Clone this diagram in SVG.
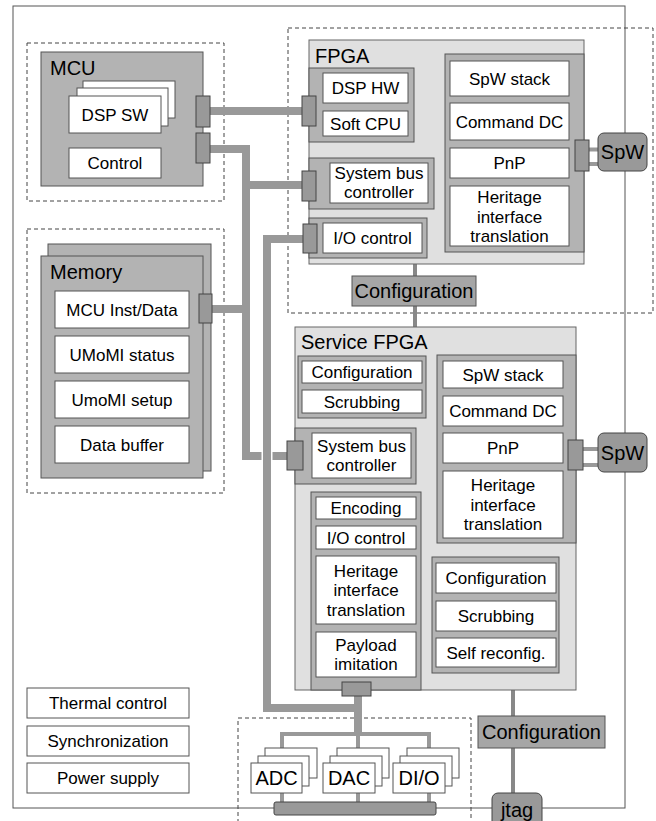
<svg xmlns="http://www.w3.org/2000/svg" width="656" height="821" viewBox="0 0 656 821">
<style>
.w{fill:#fff;stroke:#555;stroke-width:1}
.g{fill:#b3b3b3;stroke:#555;stroke-width:1}
.l{fill:#e0e0e0;stroke:#666;stroke-width:1}
.p{fill:#999;stroke:#444;stroke-width:1}
.d{fill:#a6a6a6;stroke:#555;stroke-width:1}
.dash{fill:none;stroke:#444;stroke-width:1;stroke-dasharray:4 3}
.bus{fill:none;stroke:#999;stroke-width:8}
.thin{fill:none;stroke:#999;stroke-width:4}
.cfg{fill:none;stroke:#888;stroke-width:4}
text{font-family:"Liberation Sans",Arial,sans-serif;font-size:17px;text-anchor:middle;fill:#000}
.h{font-size:20px;text-anchor:start}
.b{font-size:20px}
</style>
<rect x="13" y="6" width="612" height="802" fill="none" stroke="#555" stroke-width="1"/>
<rect class="dash" x="27" y="43" width="197" height="158"/>
<rect class="dash" x="288" y="28" width="365" height="285"/>
<rect class="dash" x="27" y="229" width="197" height="264"/>
<rect class="dash" x="238" y="718" width="233" height="110"/>

<g id="connectors">
<path class="bus" d="M210,111 H302"/>
<path class="bus" d="M210,149 H246 V456 H288"/>
<path class="bus" d="M246,185 H302"/>
<path class="bus" d="M212,309 H246"/>
<path d="M267,448 V464" fill="none" stroke="#fff" stroke-width="11"/>
<path class="bus" d="M303,239 H267 V708 H358"/>
<path class="bus" d="M358,696 V734"/>
<path class="thin" d="M282,748 V734 H429 V748 M358,734 V748"/>
<path class="thin" d="M282,793 V802 M358,793 V802 M429,793 V802"/>
<path class="thin" d="M589,149.5 H598 M589,164 H598"/>
<path class="thin" d="M583,449 H598 M583,465 H598"/>
<path class="cfg" d="M415,264 V276 M415,306 V327"/>
<path class="cfg" d="M513,673 V716 M513,748 V793"/>
</g>

<g id="mcu">
<rect class="g" x="41" y="52" width="162" height="134"/>
<text class="h" x="50" y="75">MCU</text>
<rect class="w" x="83" y="81" width="92" height="37"/>
<rect class="w" x="77" y="88" width="91" height="38"/>
<rect class="w" x="69" y="96" width="92" height="37"/>
<text x="115" y="121">DSP SW</text>
<rect class="w" x="69" y="148" width="92" height="30"/>
<text x="115" y="169">Control</text>
<rect class="p" x="196" y="96" width="14" height="31"/>
<rect class="p" x="196" y="133" width="14" height="30"/>
</g>

<g id="memory">
<rect class="g" x="48" y="244" width="163" height="227"/>
<rect class="g" x="41" y="256" width="162" height="222"/>
<text class="h" x="50" y="279">Memory</text>
<rect class="w" x="55" y="291" width="134" height="37"/>
<text x="122" y="315.5">MCU Inst/Data</text>
<rect class="w" x="55" y="336" width="134" height="37"/>
<text x="122" y="360.5">UMoMI status</text>
<rect class="w" x="55" y="381" width="134" height="37"/>
<text x="122" y="405.5">UmoMI setup</text>
<rect class="w" x="55" y="426" width="134" height="37"/>
<text x="122" y="450.5">Data buffer</text>
<rect class="p" x="199" y="294" width="13" height="29"/>
</g>

<g id="fpga">
<rect class="l" x="309" y="40" width="275" height="224"/>
<text class="h" x="315" y="63">FPGA</text>
<rect class="g" x="309" y="68" width="105" height="74"/>
<rect class="w" x="323" y="73" width="85" height="30"/>
<text x="365.5" y="94">DSP HW</text>
<rect class="w" x="323" y="111" width="85" height="25"/>
<text x="365.5" y="129.5">Soft CPU</text>
<rect class="p" x="302" y="96" width="14" height="30"/>
<rect class="g" x="309" y="158" width="125" height="51"/>
<rect class="w" x="330" y="163" width="98" height="40"/>
<text x="379" y="179">System bus</text>
<text x="379" y="198">controller</text>
<rect class="p" x="302" y="171" width="14" height="30"/>
<rect class="g" x="309" y="218" width="118" height="40"/>
<rect class="w" x="323" y="223" width="99" height="30"/>
<text x="372.5" y="244">I/O control</text>
<rect class="p" x="303" y="224" width="14" height="29"/>
<rect class="g" x="445" y="54" width="139" height="198"/>
<rect class="w" x="450" y="61" width="119" height="35"/>
<text x="509.5" y="84.5">SpW stack</text>
<rect class="w" x="450" y="103" width="119" height="37"/>
<text x="509.5" y="127.5">Command DC</text>
<rect class="w" x="450" y="148" width="119" height="30"/>
<text x="509.5" y="169">PnP</text>
<rect class="w" x="450" y="186" width="119" height="60"/>
<text x="509.5" y="203">Heritage</text>
<text x="509.5" y="222.5">interface</text>
<text x="509.5" y="242">translation</text>
<rect class="p" x="575" y="140" width="14" height="31"/>
</g>

<g id="spw1">
<rect class="p" x="598" y="133" width="49" height="38" rx="6"/>
<text class="b" x="622.5" y="159">SpW</text>
</g>

<g id="config1">
<rect class="d" x="352" y="276" width="124" height="30"/>
<text class="b" x="414" y="298">Configuration</text>
</g>

<g id="service-fpga">
<rect class="l" x="295" y="327" width="281" height="363"/>
<text class="h" x="301" y="349">Service FPGA</text>
<rect class="g" x="298" y="356" width="128" height="62"/>
<rect class="w" x="302" y="361" width="120" height="22"/>
<text x="362" y="378">Configuration</text>
<rect class="w" x="302" y="390" width="120" height="23"/>
<text x="362" y="407.5">Scrubbing</text>
<rect class="g" x="295" y="428" width="121" height="56"/>
<rect class="w" x="312" y="433" width="99" height="45"/>
<text x="361.5" y="452">System bus</text>
<text x="361.5" y="471">controller</text>
<rect class="p" x="287" y="441" width="16" height="29"/>
<rect class="g" x="437" y="355" width="139" height="188"/>
<rect class="w" x="443" y="361" width="120" height="27"/>
<text x="503" y="380.5">SpW stack</text>
<rect class="w" x="443" y="396" width="120" height="30"/>
<text x="503" y="417">Command DC</text>
<rect class="w" x="443" y="433" width="120" height="30"/>
<text x="503" y="454">PnP</text>
<rect class="w" x="443" y="471" width="120" height="67"/>
<text x="503" y="491">Heritage</text>
<text x="503" y="510.5">interface</text>
<text x="503" y="530">translation</text>
<rect class="p" x="568" y="440" width="15" height="30"/>
<rect class="g" x="311" y="492" width="110" height="198"/>
<rect class="w" x="316" y="497" width="100" height="22"/>
<text x="366" y="514">Encoding</text>
<rect class="w" x="316" y="526" width="100" height="23"/>
<text x="366" y="543.5">I/O control</text>
<rect class="w" x="316" y="556" width="100" height="68"/>
<text x="366" y="576.5">Heritage</text>
<text x="366" y="596">interface</text>
<text x="366" y="615.5">translation</text>
<rect class="w" x="316" y="632" width="100" height="45"/>
<text x="366" y="651">Payload</text>
<text x="366" y="670">imitation</text>
<rect class="g" x="432" y="557" width="127" height="116"/>
<rect class="w" x="436" y="563" width="120" height="30"/>
<text x="496" y="584">Configuration</text>
<rect class="w" x="436" y="601" width="120" height="30"/>
<text x="496" y="622">Scrubbing</text>
<rect class="w" x="436" y="638" width="120" height="29"/>
<text x="496" y="658.5">Self reconfig.</text>
<rect class="p" x="342" y="682" width="29" height="14"/>
</g>

<g id="spw2">
<rect class="p" x="598" y="433" width="49" height="39" rx="6"/>
<text class="b" x="622.5" y="459.5">SpW</text>
</g>

<g id="config2">
<rect class="d" x="478" y="716" width="127" height="32"/>
<text class="b" x="541.5" y="739">Configuration</text>
</g>

<g id="jtag">
<rect class="p" x="492" y="793" width="50" height="40" rx="6"/>
<text class="b" x="517" y="817">jtag</text>
</g>

<g id="adc">
<rect class="w" x="265" y="748" width="52" height="30"/>
<rect class="w" x="258" y="756" width="51" height="30"/>
<rect class="w" x="251" y="763" width="51" height="30"/>
<text class="b" x="276.5" y="785">ADC</text>
</g>
<g id="dac">
<rect class="w" x="337" y="748" width="52" height="30"/>
<rect class="w" x="330" y="756" width="52" height="30"/>
<rect class="w" x="323" y="763" width="52" height="30"/>
<text class="b" x="349" y="785">DAC</text>
</g>
<g id="dio">
<rect class="w" x="407" y="748" width="52" height="30"/>
<rect class="w" x="400" y="756" width="52" height="30"/>
<rect class="w" x="393" y="763" width="52" height="30"/>
<text class="b" x="419" y="785">DI/O</text>
</g>
<g id="io-bus">
<rect class="p" x="274" y="802" width="162" height="13" rx="2"/>
</g>

<g id="thermal">
<rect class="w" x="27" y="688" width="162" height="30"/>
<text x="108" y="709">Thermal control</text>
</g>
<g id="sync">
<rect class="w" x="27" y="726" width="162" height="30"/>
<text x="108" y="747">Synchronization</text>
</g>
<g id="power">
<rect class="w" x="27" y="763" width="162" height="30"/>
<text x="108" y="784">Power supply</text>
</g>
</svg>
